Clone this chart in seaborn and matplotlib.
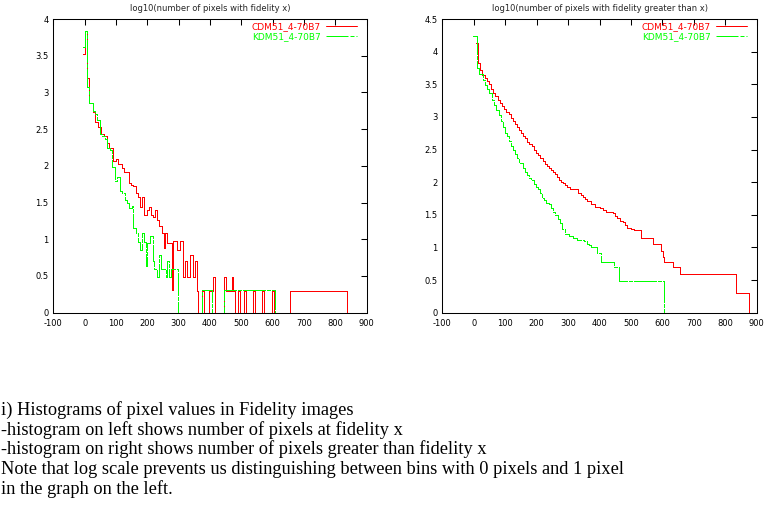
import matplotlib
matplotlib.use("Agg")
import matplotlib.pyplot as plt
from matplotlib.lines import Line2D
import seaborn as sns
import pandas as pd

# ---------------- data ----------------
left_title = "log10(number of pixels with fidelity x)"
right_title = "log10(number of pixels with fidelity greater than x)"
series_names = ["CDM51_4-70B7", "KDM51_4-70B7"]

# left: log10(count) per fidelity bin (bins with 0 pixels are absent)
cdm_left_x = [-4, 2, 8.5, 15, 25.5, 33, 43.6, 52, 63, 70, 78, 91.5, 99, 105, 120, 127, 134,
              141.5, 148, 155, 163, 169, 176.6, 184, 190, 198, 204, 212, 219, 225, 231,
              238, 246, 252, 257, 264, 270, 278, 283, 296, 304, 313, 320, 328, 336, 345,
              352, 358, 363, 373, 381, 398, 410, 416, 445, 451, 469, 474, 480, 490, 496,
              510, 516, 538, 545, 567, 573, 599, 604, 655, 836, 875]
cdm_left_y = [3.53, 3.83, 3.19, 2.85, 2.73, 2.60, 2.53, 2.43, 2.40, 2.31, 2.24, 2.06, 2.09,
              2.03, 1.97, 1.92, 1.91, 1.76, 1.74, 1.72, 1.63, 1.58, 1.44, 1.57, 1.33, 1.40,
              1.44, 1.33, 1.30, 1.40, 1.26, 1.18, 1.08, 0.88, 1.08, 0.95, 0.95, 0.31, 0.97,
              0.86, 0.97, 0.48, 0.70, 0.48, 0.78, 0.48, 0.70, 0.30, 0.00, 0.30, 0.00, 0.30,
              0.48, 0.00, 0.48, 0.30, 0.48, 0.30, 0.00, 0.30, 0.00, 0.30, 0.00, 0.30, 0.00,
              0.30, 0.00, 0.30, 0.00, 0.30, 0.00, 0.00]
kdm_left_x = [-6.4, 2.1, 8.5, 14.9, 25.5, 34, 40.4, 49, 56.4, 65, 72.3, 80.9, 88.3, 96.8,
              104.3, 112.8, 120.2, 127.7, 134, 142.6, 150, 155.3, 163.8, 169, 176.6, 181.9,
              189.4, 194.7, 200, 208.5, 217, 222.3, 229.8, 236.2, 242.6, 251, 259.6, 263.8,
              270.2, 274.5, 297, 373, 406, 445, 607]
kdm_left_y = [3.62, 3.84, 3.07, 2.85, 2.75, 2.70, 2.63, 2.44, 2.40, 2.37, 2.24, 2.22, 1.98,
              1.80, 1.85, 1.66, 1.63, 1.54, 1.49, 1.43, 1.45, 1.15, 1.08, 0.96, 0.85, 1.08,
              0.96, 0.63, 0.95, 1.05, 0.70, 0.60, 0.48, 0.78, 0.60, 0.60, 0.48, 0.70, 0.48,
              0.60, 0.00, 0.31, 0.00, 0.31, 0.00]

# right: log10(number of pixels with fidelity greater than x)
cdm_right_x = [6.0, 13.5, 19.8, 26.2, 36.8, 43.2, 49.5, 55.9, 62.2, 68.6, 78.2, 83.5, 89.8,
               96.2, 102.5, 111.0, 117.4, 123.8, 130.1, 136.5, 142.8, 151.3, 157.7, 164.0,
               170.4, 176.8, 185.3, 191.6, 198.0, 204.3, 210.7, 219.2, 225.6, 231.9, 238.3,
               244.6, 253.1, 259.5, 265.9, 272.2, 278.6, 285.0, 291.3, 297.7, 306.2, 332.7,
               340.1, 348.6, 354.9, 361.3, 374.0, 385.7, 401.6, 412.2, 420.7, 441.9, 449.3,
               456.7, 465.2, 473.7, 481.1, 488.5, 499.2, 509.8, 531.0, 569.2, 594.6, 601.0,
               606.3, 634.9, 656.1, 834.3, 875.6]
cdm_right_y = [4.13, 3.83, 3.72, 3.64, 3.60, 3.55, 3.50, 3.42, 3.37, 3.32, 3.26, 3.21, 3.17,
               3.12, 3.08, 3.04, 2.99, 2.94, 2.89, 2.85, 2.80, 2.75, 2.71, 2.67, 2.62, 2.58,
               2.55, 2.49, 2.45, 2.41, 2.37, 2.33, 2.28, 2.25, 2.21, 2.18, 2.15, 2.12, 2.08,
               2.04, 2.01, 1.98, 1.95, 1.93, 1.89, 1.84, 1.81, 1.77, 1.74, 1.71, 1.66, 1.62,
               1.60, 1.57, 1.54, 1.52, 1.48, 1.45, 1.41, 1.39, 1.35, 1.30, 1.28, 1.26, 1.14,
               1.05, 0.95, 0.85, 0.77, 0.70, 0.60, 0.30, 0.00]
kdm_right_x = [-1.4, 9.2, 16.6, 30.4, 36.8, 43.2, 49.5, 56.9, 63.3, 69.7, 79.2, 85.6, 91.9,
               98.3, 104.7, 111.0, 119.5, 125.9, 132.2, 138.6, 145.0, 155.6, 161.9, 168.3,
               174.7, 183.1, 191.6, 198.0, 204.3, 210.7, 217.1, 223.4, 229.8, 238.3, 244.6,
               251.0, 259.5, 268.0, 274.3, 280.7, 291.3, 301.9, 316.8, 329.5, 350.7, 361.3,
               367.7, 373.0, 391.0, 405.8, 447.2, 463.1, 605.2]
kdm_right_y = [4.24, 3.75, 3.65, 3.57, 3.49, 3.43, 3.36, 3.26, 3.18, 3.10, 3.03, 2.94, 2.85,
               2.76, 2.70, 2.63, 2.56, 2.50, 2.43, 2.37, 2.30, 2.22, 2.16, 2.11, 2.06, 2.03,
               1.97, 1.92, 1.89, 1.83, 1.76, 1.72, 1.68, 1.66, 1.60, 1.54, 1.49, 1.43, 1.37,
               1.29, 1.21, 1.17, 1.14, 1.12, 1.10, 1.06, 1.03, 1.00, 0.92, 0.78, 0.70, 0.49,
               0.00]

x_ticks = [-100, 0, 100, 200, 300, 400, 500, 600, 700, 800, 900]
left_y_ticks = [0, 0.5, 1, 1.5, 2, 2.5, 3, 3.5, 4]
right_y_ticks = [0, 0.5, 1, 1.5, 2, 2.5, 3, 3.5, 4, 4.5]

caption_lines = [
    "i) Histograms of pixel values in Fidelity images",
    "-histogram on left shows number of pixels at fidelity x",
    "-histogram on right shows number of pixels greater than fidelity x",
    "Note that log scale prevents us distinguishing between bins with 0 pixels and 1 pixel",
    "in the graph on the left.",
]

# ---------------- style ----------------
sns.set_style("white")
plt.rcParams["font.family"] = ["DejaVu Sans"]
plt.rcParams["axes.edgecolor"] = "black"
plt.rcParams["axes.linewidth"] = 0.75

W, H = 765, 511
fig = plt.figure(figsize=(W / 100, H / 100), dpi=100)
fig.patch.set_facecolor("white")

colors = ["#ff0000", "#00ff00"]
styles = ["-", (0, (22, 2, 4, 2))]
FS = 6.0
LW = 0.72


def make_panel(rect, title, data, yticks, ylim):
    ax = fig.add_axes(rect)
    for (xs, ys), name, c, ls in zip(data, series_names, colors, styles):
        df = pd.DataFrame({"x": xs, "y": ys})
        sns.lineplot(data=df, x="x", y="y", ax=ax, color=c, linestyle=ls, lw=LW,
                     drawstyle="steps-post", estimator=None, sort=False, legend=False,
                     antialiased=False)
    ax.set_xlim(-100, 900)
    ax.set_ylim(*ylim)
    ax.set_xticks(x_ticks)
    ax.set_xticklabels([str(t) for t in x_ticks])
    ax.set_yticks(yticks)
    ax.set_yticklabels([("%g" % t) for t in yticks])
    ax.tick_params(direction="in", length=4, width=0.75, top=True, right=True,
                   labelsize=FS, colors="black")
    ax.tick_params(axis="x", pad=4.5)
    ax.tick_params(axis="y", pad=3.5)
    ax.set_xlabel("")
    ax.set_ylabel("")
    ax.set_title(title, fontsize=FS, pad=6)
    for s in ax.spines.values():
        s.set_visible(True)
        s.set_color("black")
    handles = [Line2D([], [], color=c, ls=ls, lw=LW, antialiased=False)
               for c, ls in zip(colors, styles)]
    ax.legend(handles, series_names, loc="upper right", bbox_to_anchor=(0.975, 0.995),
              frameon=False, markerfirst=False, labelcolor=colors, fontsize=FS + 0.5,
              handlelength=3.4, handletextpad=0.6, labelspacing=0.05,
              borderaxespad=0, borderpad=0.2)
    return ax


left_rect = [53.3 / W, 1 - 312.7 / H, 313.4 / W, 293.7 / H]
right_rect = [442.3 / W, 1 - 312.7 / H, 314.4 / W, 293.7 / H]

make_panel(left_rect, left_title,
           [(cdm_left_x, cdm_left_y), (kdm_left_x, kdm_left_y)], left_y_ticks, (0, 4))
make_panel(right_rect, right_title,
           [(cdm_right_x, cdm_right_y), (kdm_right_x, kdm_right_y)], right_y_ticks, (0, 4.5))

line_y = [410, 430, 449.5, 469, 489]
for txt, yy in zip(caption_lines, line_y):
    fig.text(1 / W, 1 - yy / H, txt, family=["Liberation Serif", "DejaVu Serif"],
             fontsize=13.2, va="center", ha="left", color="black")

fig.savefig("out.png", dpi=100, facecolor="white")
